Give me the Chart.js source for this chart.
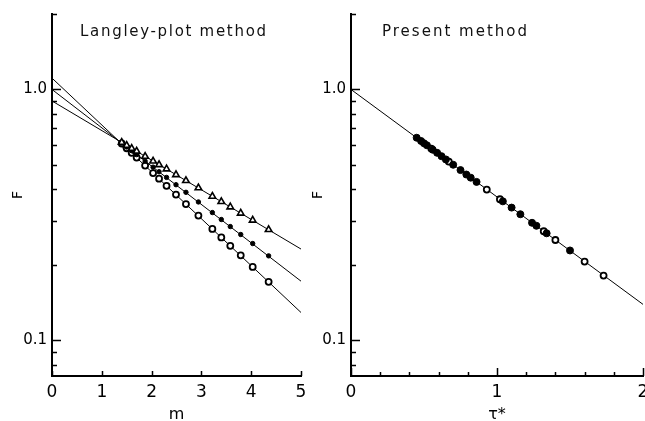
<!DOCTYPE html>
<html>
<head>
<meta charset="utf-8">
<script src="https://cdn.jsdelivr.net/npm/chart.js@4.4.1/dist/chart.umd.min.js"></script>
<style>
  html, body { margin:0; padding:0; background:#fff; width:645px; height:421px; overflow:hidden; }
  .box { position:absolute; top:0; height:421px; }
  #leftBox { left:0; width:320px; }
  #rightBox { left:300px; width:360px; }
  .ptitle { position:absolute; top:22px; font-family:'DejaVu Sans', sans-serif; font-size:15px; line-height:18px; color:#111; white-space:nowrap; }
</style>
</head>
<body>
<div class="box" id="leftBox"><canvas id="leftChart" width="320" height="421"></canvas></div>
<div class="box" id="rightBox"><canvas id="rightChart" width="360" height="421"></canvas></div>
<div class="ptitle" style="left:80px; letter-spacing:1.7px;">Langley-plot method</div>
<div class="ptitle" style="left:382px; letter-spacing:2px;">Present method</div>
<script>
// Langley plot: air mass m vs F (three series)
const mValues   = [1.40, 1.50, 1.60, 1.70, 1.87, 2.03, 2.15, 2.30, 2.49, 2.69, 2.94, 3.22, 3.40, 3.58, 3.79, 4.03, 4.35];
const fTriangle = [0.615, 0.598, 0.582, 0.567, 0.541, 0.518, 0.501, 0.482, 0.457, 0.433, 0.405, 0.375, 0.357, 0.340, 0.321, 0.301, 0.276];
const fDot      = [0.612, 0.590, 0.570, 0.550, 0.518, 0.490, 0.470, 0.446, 0.417, 0.389, 0.356, 0.323, 0.303, 0.284, 0.264, 0.243, 0.217];
const fCircle   = [0.609, 0.583, 0.559, 0.535, 0.497, 0.464, 0.441, 0.413, 0.381, 0.349, 0.314, 0.278, 0.257, 0.238, 0.218, 0.196, 0.171];
const fitM        = [0, 5];
const fitTriangle = [0.90, 0.231];
const fitDot      = [1.00, 0.172];
const fitCircle   = [1.11, 0.129];

// Present method: tau* vs F
const tauFilled = [0.45, 0.48, 0.50, 0.52, 0.56, 0.59, 0.62, 0.65, 0.70, 0.75, 0.79, 0.82, 0.86, 1.04, 1.10, 1.16, 1.24, 1.27, 1.34, 1.50];
const fFilled   = [0.642, 0.623, 0.610, 0.599, 0.575, 0.559, 0.542, 0.526, 0.501, 0.477, 0.458, 0.445, 0.428, 0.358, 0.338, 0.318, 0.294, 0.286, 0.267, 0.228];
const tauOpen   = [0.55, 0.67, 0.93, 1.02, 1.32, 1.40, 1.60, 1.73];
const fOpen     = [0.581, 0.516, 0.399, 0.365, 0.272, 0.251, 0.206, 0.181];
const fitTau     = [0, 2];
const fitPresent = [1.00, 0.139];

// axes
const yMin = 0.072, yMax = 2.0;
const yTicks = [0.08, 0.09, 0.1, 0.2, 0.3, 0.4, 0.5, 0.6, 0.7, 0.8, 0.9, 1, 2];
const yLabels = { 0.1: '0.1', 1: '1.0' };
const yMajor = [0.1, 1];
const xTicksLeft = [0, 1, 2, 3, 4, 5];
const xTicksRight = [0, 0.2, 0.4, 0.6, 0.8, 1, 1.2, 1.4, 1.6, 1.8, 2];
const xLabelsRight = { 0: '0', 1: '1', 2: '2' };
const xMajorRight = [0, 1, 2];

const FONT = "'DejaVu Sans', sans-serif";

function pts(xs, ys){ return xs.map((x,i)=>({x, y: ys[i]})); }

// tick marks drawn inward from the axes
const innerTicks = {
  id: 'innerTicks',
  afterDraw(chart, args, o){
    const ctx = chart.ctx, xs = chart.scales.x, ys = chart.scales.y;
    const { left, bottom } = chart.chartArea;
    ctx.save();
    ctx.strokeStyle = '#000';
    ctx.lineWidth = 1.5;
    ctx.beginPath();
    xs.ticks.forEach(t => {
      const px = Math.round(xs.getPixelForValue(t.value)) + 0.5;
      const len = o.xMajor.includes(t.value) ? o.xMajorLen : o.xMinorLen;
      ctx.moveTo(px, bottom); ctx.lineTo(px, bottom - len);
    });
    ys.ticks.forEach(t => {
      const py = Math.round(ys.getPixelForValue(t.value)) + 0.5;
      const len = yMajor.includes(t.value) ? 9 : 5;
      ctx.moveTo(left, py); ctx.lineTo(left + len, py);
    });
    ctx.stroke();
    ctx.restore();
  }
};

function makeScales(xMax, xTickVals, xLabelFn, xTitle, yWidth){
  return {
    x: {
      type: 'linear', min: 0, max: xMax,
      afterBuildTicks: s => { s.ticks = xTickVals.map(v => ({ value: v })); },
      afterFit: s => { s.height = 45; },
      grid: { display: false, drawTicks: false },
      border: { display: true, color: '#000', width: 2 },
      ticks: { callback: xLabelFn, padding: 6, color: '#000', maxRotation: 0, autoSkip: false, font: { family: FONT, size: 17 } },
      title: { display: true, text: xTitle, color: '#000', font: { family: FONT, size: 16, lineHeight: 0.8 }, padding: { top: 0, bottom: 0 } }
    },
    y: {
      type: 'logarithmic', min: yMin, max: yMax,
      afterBuildTicks: s => { s.ticks = yTicks.map(v => ({ value: v })); },
      afterFit: s => { s.width = yWidth; },
      grid: { display: false, drawTicks: false },
      border: { display: true, color: '#000', width: 2 },
      ticks: { callback: v => yLabels[v] || '', padding: 5, color: '#000', autoSkip: false, font: { family: FONT, size: 15 } },
      title: { display: true, text: 'F', color: '#000', font: { family: FONT, size: 14 }, padding: { top: 10, bottom: 0 } }
    }
  };
}

function lineSet(xs, ys){
  return { type: 'line', data: pts(xs, ys), borderColor: '#000', borderWidth: 1, pointRadius: 0, fill: false, order: 2 };
}

function markSet(xs, ys, style, radius, fillColor, bw){
  return { type: 'scatter', data: pts(xs, ys), pointStyle: style, pointRadius: radius, pointBackgroundColor: fillColor,
           pointBorderColor: '#000', pointBorderWidth: bw, showLine: false, order: 1 };
}

const common = {
  responsive: false, animation: false, devicePixelRatio: 1,
  plugins: { legend: { display: false }, tooltip: { enabled: false } }
};

new Chart(document.getElementById('leftChart'), {
  type: 'scatter',
  data: { datasets: [
    lineSet(fitM, fitTriangle), lineSet(fitM, fitDot), lineSet(fitM, fitCircle),
    markSet(mValues, fTriangle, 'triangle', 3.8, '#fff', 1.6),
    markSet(mValues, fDot, 'circle', 2.2, '#000', 1),
    markSet(mValues, fCircle, 'circle', 3, '#fff', 1.8)
  ]},
  options: Object.assign({}, common, {
    layout: { padding: { top: 12, right: 19, left: 0, bottom: 0 } },
    scales: makeScales(5, xTicksLeft, v => String(v), 'm', 52),
    plugins: Object.assign({}, common.plugins, { innerTicks: { xMajor: [], xMajorLen: 5, xMinorLen: 5 } })
  }),
  plugins: [innerTicks]
});

new Chart(document.getElementById('rightChart'), {
  type: 'scatter',
  data: { datasets: [
    lineSet(fitTau, fitPresent),
    markSet(tauFilled, fFilled, 'circle', 3.5, '#000', 1),
    markSet(tauOpen, fOpen, 'circle', 3, '#fff', 1.8)
  ]},
  options: Object.assign({}, common, {
    layout: { padding: { top: 12, right: 17, left: 0, bottom: 0 } },
    scales: makeScales(2, xTicksRight, v => xLabelsRight[v] || '', 'τ*', 51),
    plugins: Object.assign({}, common.plugins, { innerTicks: { xMajor: xMajorRight, xMajorLen: 8, xMinorLen: 4 } })
  }),
  plugins: [innerTicks]
});
</script>
</body>
</html>
